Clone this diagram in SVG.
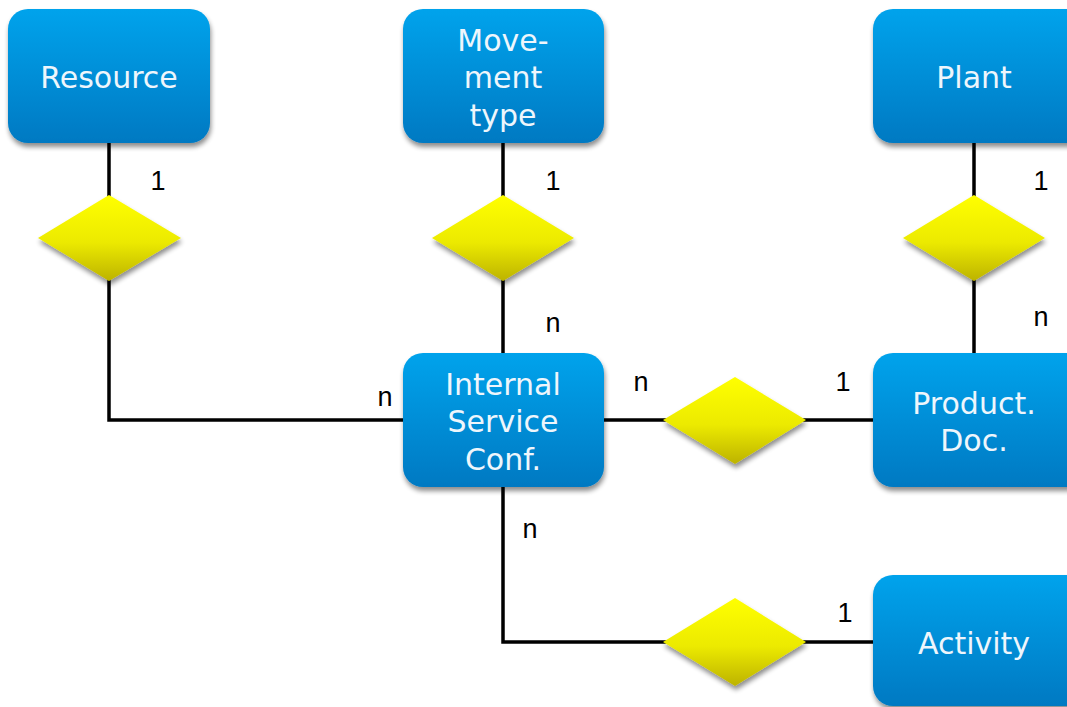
<svg xmlns="http://www.w3.org/2000/svg" width="1067" height="707" viewBox="0 0 1067 707">
  <defs>
    <linearGradient id="boxFill" x1="0" y1="0" x2="0" y2="1">
      <stop offset="0" stop-color="#06a3ec"/>
      <stop offset="1" stop-color="#0079c2"/>
    </linearGradient>
    <linearGradient id="diaFill" x1="0" y1="0" x2="0" y2="1">
      <stop offset="0" stop-color="#ffff00"/>
      <stop offset="0.55" stop-color="#ecea00"/>
      <stop offset="1" stop-color="#bdb300"/>
    </linearGradient>
    <filter id="shadow" x="-20%" y="-20%" width="140%" height="150%">
      <feGaussianBlur in="SourceAlpha" stdDeviation="2.5"/>
      <feOffset dx="1" dy="4" result="b"/>
      <feComponentTransfer><feFuncA type="linear" slope="0.45"/></feComponentTransfer>
      <feMerge><feMergeNode/><feMergeNode in="SourceGraphic"/></feMerge>
    </filter>
  </defs>
  <style>
    .box { fill: url(#boxFill); filter: url(#shadow); }
    .dia { fill: url(#diaFill); filter: url(#shadow); }
    .lbl { font-family: "DejaVu Sans", Verdana, sans-serif; font-size: 30px; fill: #eef6fc; text-anchor: middle; }
    .card { font-family: "Liberation Sans", Arial, sans-serif; font-size: 27px; fill: #000; text-anchor: middle; }
    .edge { stroke: #000; stroke-width: 3.5; fill: none; }
  </style>
  <rect width="1067" height="707" fill="#ffffff"/>

  <!-- connectors -->
  <g id="connectors">
    <polyline class="edge" points="109,143 109,420 403,420"/>
    <line class="edge" x1="503" y1="143" x2="503" y2="353"/>
    <line class="edge" x1="974" y1="143" x2="974" y2="353"/>
    <line class="edge" x1="604" y1="420" x2="873" y2="420"/>
    <polyline class="edge" points="503,487 503,642 873,642"/>
  </g>

  <!-- relationship diamonds -->
  <g id="rel-resource"><polygon class="dia" points="109,195 181,238 109,281 38,238"/></g>
  <g id="rel-movement"><polygon class="dia" points="503,195 574,238 503,281 432,238"/></g>
  <g id="rel-plant"><polygon class="dia" points="974,195 1045,238 974,281 903,238"/></g>
  <g id="rel-product"><polygon class="dia" points="735,377 806,420 735,464 663,420"/></g>
  <g id="rel-activity"><polygon class="dia" points="735,598 806,642 735,686 663,642"/></g>

  <!-- entities -->
  <g id="resource">
    <rect class="box" x="8" y="9" width="202" height="134" rx="20"/>
    <text class="lbl" x="109" y="88">Resource</text>
  </g>
  <g id="movement-type">
    <rect class="box" x="403" y="9" width="201" height="134" rx="20"/>
    <text class="lbl" x="503" y="51">Move-</text>
    <text class="lbl" x="503" y="88">ment</text>
    <text class="lbl" x="503" y="126">type</text>
  </g>
  <g id="plant">
    <rect class="box" x="873" y="9" width="214" height="134" rx="20"/>
    <text class="lbl" x="974" y="88">Plant</text>
  </g>
  <g id="internal-service-conf">
    <rect class="box" x="403" y="353" width="201" height="134" rx="20"/>
    <text class="lbl" x="503" y="395">Internal</text>
    <text class="lbl" x="503" y="432">Service</text>
    <text class="lbl" x="503" y="470">Conf.</text>
  </g>
  <g id="product-doc">
    <rect class="box" x="873" y="353" width="214" height="134" rx="20"/>
    <text class="lbl" x="974" y="414">Product.</text>
    <text class="lbl" x="974" y="451">Doc.</text>
  </g>
  <g id="activity">
    <rect class="box" x="873" y="575" width="214" height="131" rx="20"/>
    <text class="lbl" x="974" y="654">Activity</text>
  </g>

  <!-- cardinalities -->
  <g id="cardinalities">
    <text class="card" x="158" y="190">1</text>
    <text class="card" x="553" y="190">1</text>
    <text class="card" x="1041" y="190">1</text>
    <text class="card" x="553" y="332">n</text>
    <text class="card" x="1041" y="326">n</text>
    <text class="card" x="385" y="406">n</text>
    <text class="card" x="641" y="391">n</text>
    <text class="card" x="843" y="391">1</text>
    <text class="card" x="530" y="538">n</text>
    <text class="card" x="845" y="622">1</text>
  </g>
</svg>
